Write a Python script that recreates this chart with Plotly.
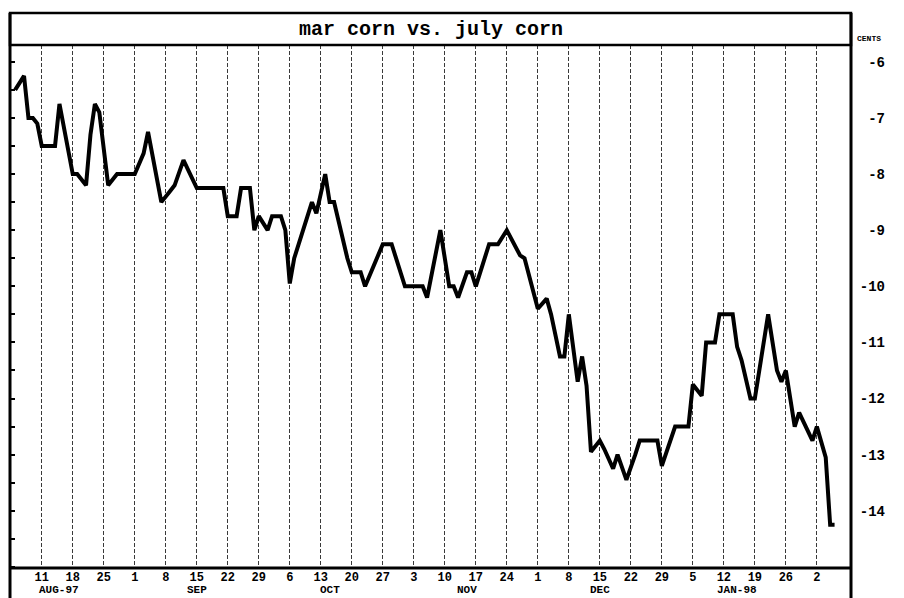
import plotly.graph_objects as go

# ---- data ----
dates = [
    "1997-08-05", "1997-08-07", "1997-08-08", "1997-08-09", "1997-08-10", "1997-08-11",
    "1997-08-14", "1997-08-15", "1997-08-18", "1997-08-19", "1997-08-21", "1997-08-22",
    "1997-08-23", "1997-08-24", "1997-08-26", "1997-08-28", "1997-09-01", "1997-09-03",
    "1997-09-04", "1997-09-07", "1997-09-09", "1997-09-10", "1997-09-12", "1997-09-15",
    "1997-09-21", "1997-09-22", "1997-09-24", "1997-09-25", "1997-09-27", "1997-09-28",
    "1997-09-29", "1997-10-01", "1997-10-02", "1997-10-04", "1997-10-05", "1997-10-06",
    "1997-10-07", "1997-10-09", "1997-10-11", "1997-10-12", "1997-10-14", "1997-10-15",
    "1997-10-16", "1997-10-19", "1997-10-20", "1997-10-22", "1997-10-23", "1997-10-27",
    "1997-10-29", "1997-11-01", "1997-11-05", "1997-11-06", "1997-11-09", "1997-11-11",
    "1997-11-12", "1997-11-13", "1997-11-15", "1997-11-16", "1997-11-17", "1997-11-20",
    "1997-11-22", "1997-11-24", "1997-11-27", "1997-11-28", "1997-12-01", "1997-12-03",
    "1997-12-04", "1997-12-06", "1997-12-07", "1997-12-08", "1997-12-10", "1997-12-11",
    "1997-12-12", "1997-12-13", "1997-12-15", "1997-12-16", "1997-12-18", "1997-12-19",
    "1997-12-21", "1997-12-23", "1997-12-24", "1997-12-28", "1997-12-29", "1998-01-01",
    "1998-01-04", "1998-01-05", "1998-01-07", "1998-01-08", "1998-01-10", "1998-01-11",
    "1998-01-14", "1998-01-15", "1998-01-16", "1998-01-18", "1998-01-19", "1998-01-22",
    "1998-01-24", "1998-01-25", "1998-01-26", "1998-01-28", "1998-01-29", "1998-02-01",
    "1998-02-02", "1998-02-04", "1998-02-05", "1998-02-06",
]
spread = [
    -6.5, -6.25, -7.0, -7.0, -7.1, -7.5,
    -7.5, -6.75, -8.0, -8.0, -8.2, -7.3,
    -6.75, -6.9, -8.2, -8.0, -8.0, -7.63,
    -7.25, -8.5, -8.3, -8.2, -7.75, -8.25,
    -8.25, -8.75, -8.75, -8.25, -8.25, -9.0,
    -8.75, -9.0, -8.75, -8.75, -9.0, -9.95,
    -9.5, -9.0, -8.5, -8.7, -8.0, -8.5,
    -8.5, -9.5, -9.75, -9.75, -10.0, -9.25,
    -9.25, -10.0, -10.0, -10.2, -9.0, -10.0,
    -10.0, -10.2, -9.75, -9.75, -10.0, -9.25,
    -9.25, -9.0, -9.45, -9.5, -10.4, -10.22,
    -10.5, -11.25, -11.25, -10.5, -11.7, -11.25,
    -11.77, -12.95, -12.75, -12.9, -13.25, -13.0,
    -13.45, -13.0, -12.75, -12.75, -13.2, -12.5,
    -12.5, -11.75, -11.95, -11.0, -11.0, -10.5,
    -10.5, -11.08, -11.32, -12.0, -12.0, -10.5,
    -11.5, -11.7, -11.5, -12.5, -12.25, -12.75,
    -12.5, -13.05, -14.25, -14.25,
]

week_ticks = [
    "1997-08-11", "1997-08-18", "1997-08-25", "1997-09-01", "1997-09-08", "1997-09-15",
    "1997-09-22", "1997-09-29", "1997-10-06", "1997-10-13", "1997-10-20", "1997-10-27",
    "1997-11-03", "1997-11-10", "1997-11-17", "1997-11-24", "1997-12-01", "1997-12-08",
    "1997-12-15", "1997-12-22", "1997-12-29", "1998-01-05", "1998-01-12", "1998-01-19",
    "1998-01-26", "1998-02-02",
]
week_labels = ["11", "18", "25", "1", "8", "15", "22", "29", "6", "13", "20", "27",
               "3", "10", "17", "24", "1", "8", "15", "22", "29", "5", "12", "19", "26", "2"]

month_pos = ["1997-08-15", "1997-09-15", "1997-10-15", "1997-11-15", "1997-12-15", "1998-01-15"]
month_labels = ["AUG-97", "SEP", "OCT", "NOV", "DEC", "JAN-98"]

y_ticks = [-6, -7, -8, -9, -10, -11, -12, -13, -14]
y_labels = ["\u00a0-6", "\u00a0-7", "\u00a0-8", "\u00a0-9", "-10", "-11", "-12", "-13", "-14"]

title_text = "mar corn vs. july corn"
unit_text = "CENTS"

FONT = "Liberation Mono"

fig = go.Figure()
fig.add_trace(go.Scatter(
    x=dates, y=spread, mode="lines",
    line=dict(color="black", width=4),
    hoverinfo="skip", showlegend=False,
))
# empty trace so the left-hand tick axis is drawn
fig.add_trace(go.Scatter(
    x=[None], y=[None], yaxis="y2", mode="lines",
    hoverinfo="skip", showlegend=False,
))

# page body has an 8px default margin, so the figure is sized to fit inside
fig.update_layout(
    width=896, height=590,
    margin=dict(l=2, r=53, t=37, b=30),
    paper_bgcolor="white", plot_bgcolor="white",
    showlegend=False,
    font=dict(family=FONT, color="black"),
)

fig.update_xaxes(
    type="date",
    range=["1997-08-03 20:00", "1998-02-09 17:00"],
    tickmode="array", tickvals=week_ticks, ticktext=week_labels,
    tickfont=dict(family=FONT, size=12, color="black", weight="bold"),
    ticks="", showline=False, zeroline=False,
    showgrid=True, gridcolor="#3a3a3a", gridwidth=1, griddash="4px,2px",
)

fig.update_yaxes(
    side="right",
    range=[-15.02, -5.7],
    tickmode="array", tickvals=y_ticks, ticktext=y_labels,
    tickfont=dict(family=FONT, size=14, color="black", weight="bold"),
    ticks="outside", ticklen=5, tickcolor="rgba(0,0,0,0)",
    showline=False, zeroline=False, showgrid=False,
)

# left-hand minor ticks every half cent, pointing into the plot
fig.update_layout(yaxis2=dict(
    overlaying="y", side="left", range=[-15.02, -5.7],
    tickmode="linear", tick0=-6, dtick=0.5,
    ticks="inside", ticklen=5, tickwidth=1.5, tickcolor="black",
    showticklabels=False, showgrid=False, zeroline=False, showline=False,
))

# frame: title box, side rules, bottom axis rule
plot_h = 590 - 37 - 30
top_box = 1 + 32 / plot_h
bottom_ext = -30 / plot_h
shapes = [
    dict(type="rect", xref="paper", yref="paper", x0=0, x1=1, y0=1, y1=top_box,
         line=dict(color="black", width=2.5), fillcolor="rgba(0,0,0,0)"),
    dict(type="line", xref="paper", yref="paper", x0=0, x1=0, y0=bottom_ext, y1=top_box,
         line=dict(color="black", width=3)),
    dict(type="line", xref="paper", yref="paper", x0=1, x1=1, y0=bottom_ext, y1=top_box,
         line=dict(color="black", width=3)),
    dict(type="line", xref="paper", yref="paper", x0=0, x1=1, y0=0, y1=0,
         line=dict(color="black", width=3)),
]
fig.update_layout(shapes=shapes)

annotations = [
    dict(text=title_text, xref="paper", yref="paper", x=0.5, y=(1 + top_box) / 2,
         xanchor="center", yanchor="middle", showarrow=False,
         font=dict(family=FONT, size=20, color="black", weight="bold")),
    dict(text=unit_text, xref="paper", yref="paper", x=1, y=1, xshift=4,
         xanchor="left", yanchor="bottom", showarrow=False,
         font=dict(family=FONT, size=8, color="black", weight="bold")),
]
for mp, ml in zip(month_pos, month_labels):
    annotations.append(dict(
        text=ml, x=mp, xref="x", y=0, yref="paper", yshift=-22,
        xanchor="center", yanchor="middle", showarrow=False,
        font=dict(family=FONT, size=11, color="black", weight="bold"),
    ))
fig.update_layout(annotations=annotations)

fig.write_html("out.html")
